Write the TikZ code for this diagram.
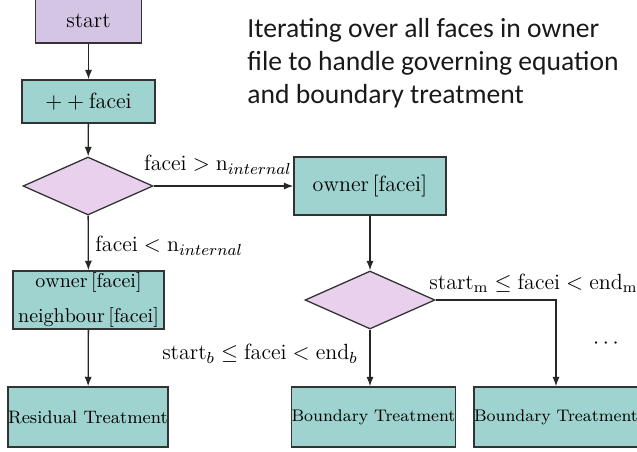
\documentclass[tikz,border=0pt]{standalone}
\usepackage{fontspec}
\newfontfamily\calibri{Carlito}
\usetikzlibrary{shapes.geometric,arrows.meta}
\definecolor{startfill}{HTML}{D4C5E5}
\definecolor{boxfill}{HTML}{9ED3CF}
\definecolor{decfill}{HTML}{E9D1EE}
\definecolor{edge}{HTML}{333333}
\begin{document}
\begin{tikzpicture}[x=0.5pt,y=-0.5pt,
  box/.style={draw=edge,line width=0.65pt,fill=boxfill,rectangle,inner sep=0pt,align=center,font=\fontsize{11}{13}\selectfont},
  dec/.style={draw=edge,line width=0.65pt,fill=decfill,diamond,inner sep=0pt,minimum width=65pt,minimum height=29pt},
  arr/.style={draw=black!85,line width=0.65pt,-{Latex[length=4.8pt,width=3.6pt]}},
  lbl/.style={font=\fontsize{11}{13}\selectfont,inner sep=0pt}]
\useasboundingbox (0,0) rectangle (637,451);
\node[box,fill=startfill,minimum width=53pt,minimum height=22.5pt] (start) at (88.5,20.5) {start};
\node[box,minimum width=66.5pt,minimum height=21.5pt] (inc) at (88.5,101.5) {$++\mathrm{facei}$};
\node[dec] (d1) at (88,186) {};
\node[box,minimum width=76pt,minimum height=29pt] (own) at (370,186) {$\mathrm{owner}\,[\mathrm{facei}]$};
\node[dec] (d2) at (370,300) {};
\node[box,minimum width=75.5pt,minimum height=29pt,font=\fontsize{10}{17.5}\selectfont] (on) at (88.5,300) {$\mathrm{owner}\,[\mathrm{facei}]$\\$\mathrm{neighbour}\,[\mathrm{facei}]$};
\node[box,minimum width=79pt,minimum height=30pt,font=\fontsize{9}{11}\selectfont] (res) at (88,417) {Residual Treatment};
\node[box,minimum width=78.5pt,minimum height=30pt,font=\fontsize{8.4}{10}\selectfont] (b1) at (373.5,417) {Boundary Treatment};
\node[box,minimum width=78pt,minimum height=30pt,font=\fontsize{8.4}{10}\selectfont] (b2) at (556,417) {Boundary Treatment};
\node[anchor=north west,inner sep=0pt,align=left,text=black!90,font=\calibri\fontsize{13.8}{16.5}\selectfont] (note) at (247,18) {Iterating over all faces in owner\\file to handle governing equation\\and boundary treatment};
\node[lbl] (l1) at (218,165) {$\mathrm{facei} > \mathrm{n}_{internal}$};
\node[lbl,anchor=west] (l2) at (95,246) {$\mathrm{facei} < \mathrm{n}_{internal}$};
\node[lbl,anchor=west] (l3) at (429,283) {$\mathrm{start}_{\mathrm{m}} \leq \mathrm{facei} < \mathrm{end}_{\mathrm{m}}$};
\node[lbl,anchor=east] (l4) at (358,354) {$\mathrm{start}_{b} \leq \mathrm{facei} < \mathrm{end}_{b}$};
\node[lbl] (l5) at (606,344) {$\cdots$};
\draw[arr] (start) -- (inc);
\draw[arr] (inc) -- (d1);
\draw[arr] (d1) -- (own);
\draw[arr] (d1) -- (on);
\draw[arr] (on) -- (res);
\draw[arr] (own) -- (d2);
\draw[arr] (d2.south) -- (d2.south |- b1.north);
\draw[arr] (d2.east) -| (b2.north);
\end{tikzpicture}
\end{document}
